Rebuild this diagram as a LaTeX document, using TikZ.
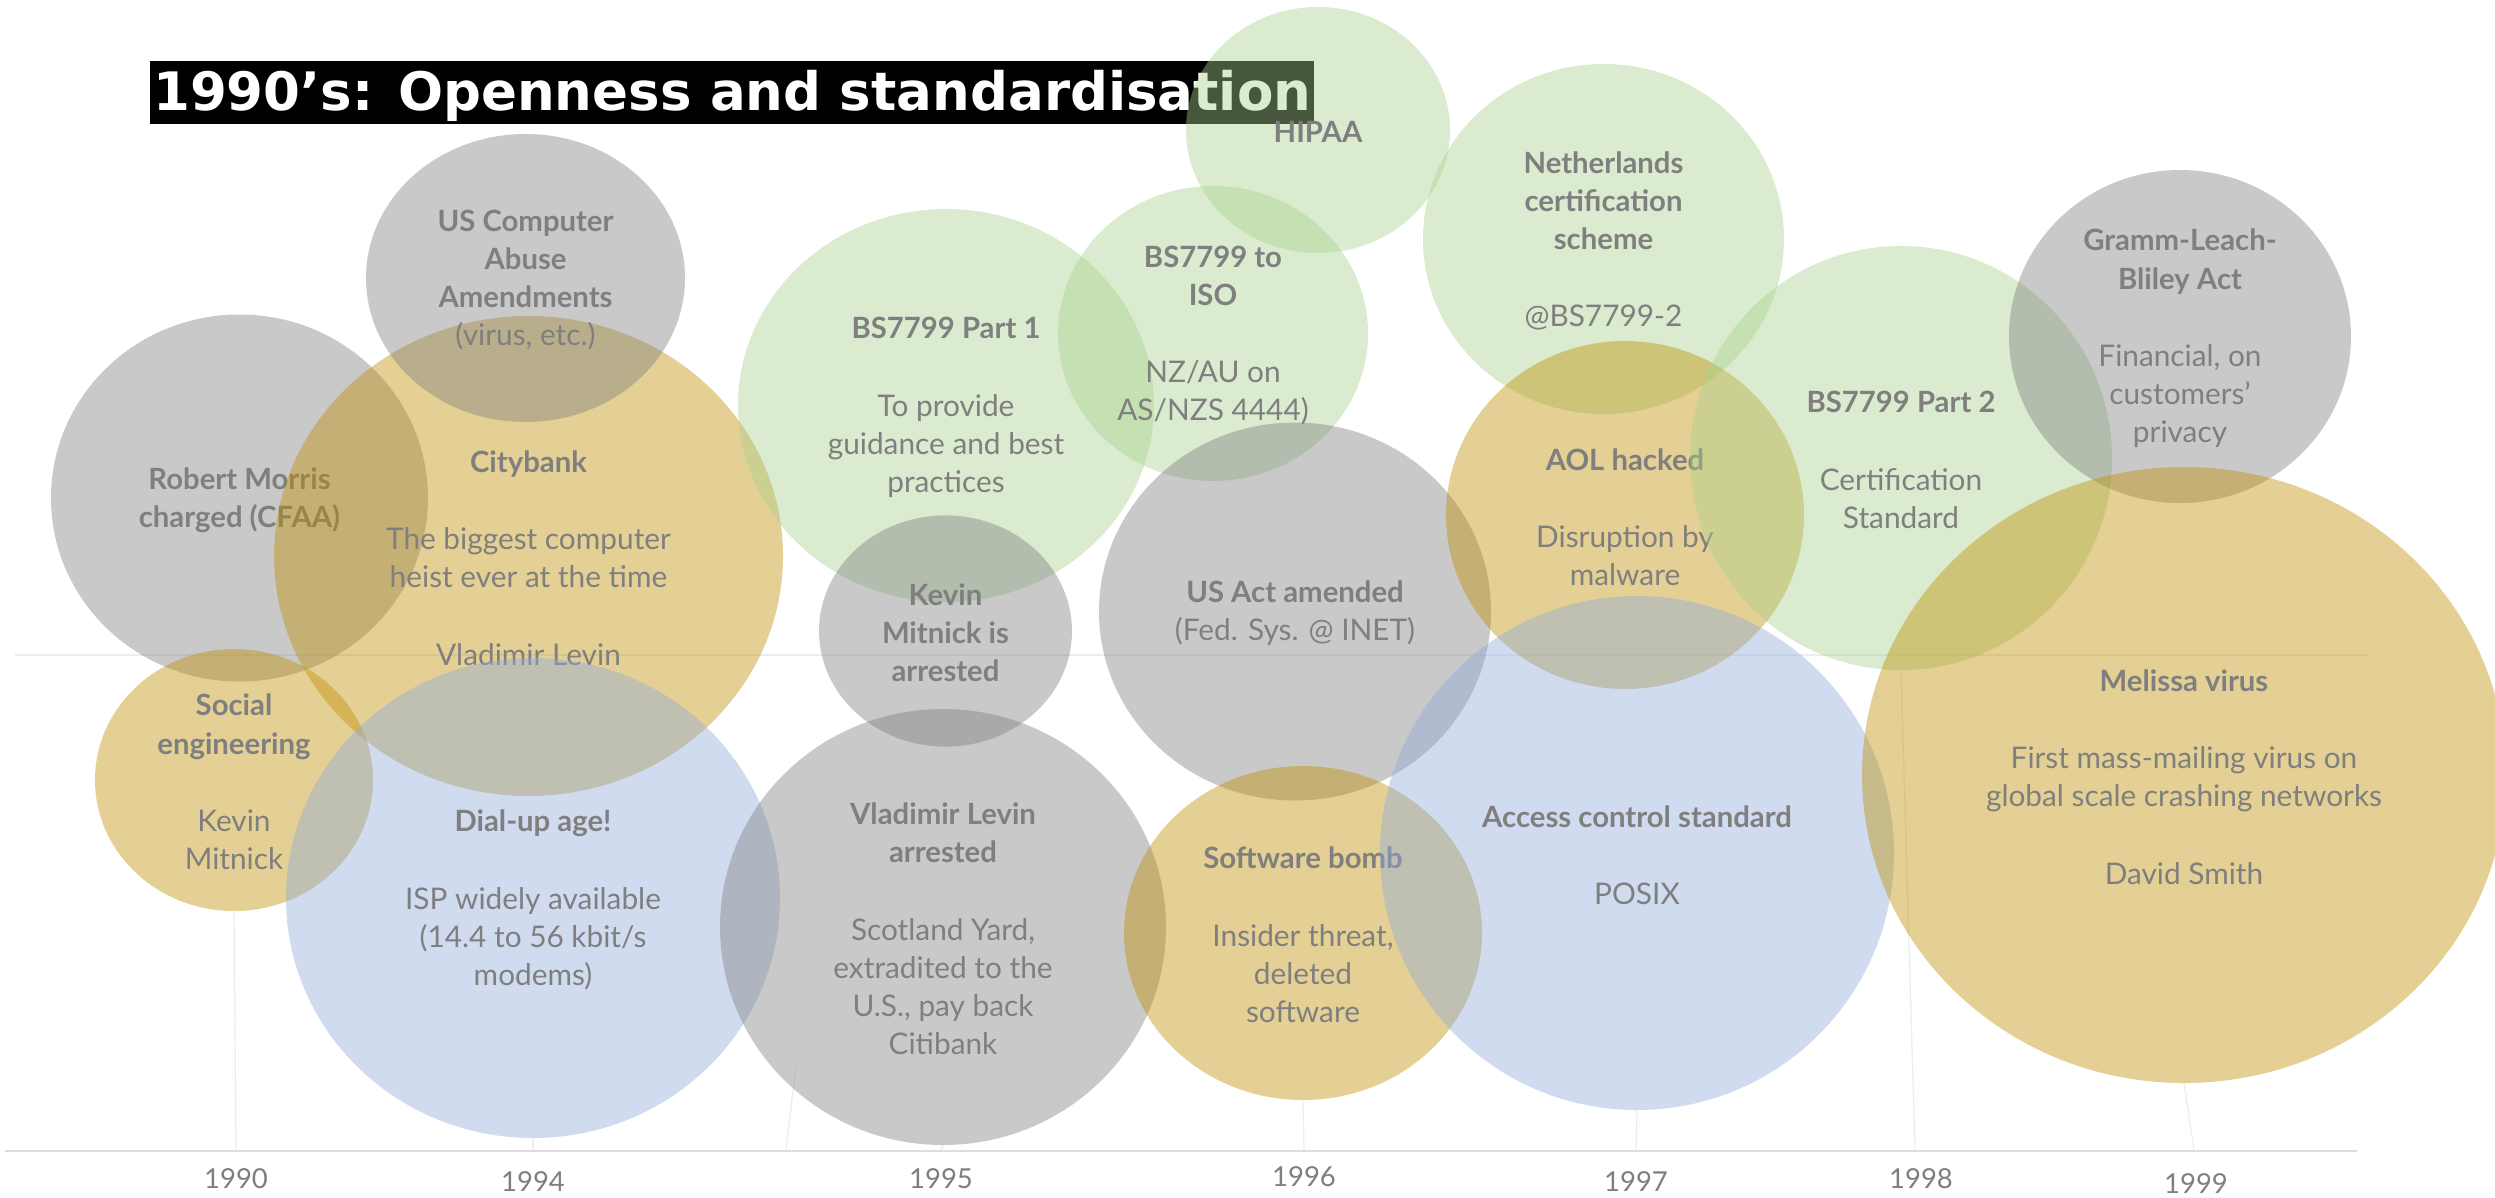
\documentclass[tikz,border=0pt]{standalone}
\usepackage{fontspec}
\setmainfont{Lato}
\newfontfamily\titlefont{DejaVu Sans}
\definecolor{cgray}{HTML}{7F7F7F}
\definecolor{cgold}{HTML}{BF8F00}
\definecolor{cgreen}{HTML}{A9D18E}
\definecolor{cblue}{HTML}{8FAADC}
\definecolor{ctext}{HTML}{7F7F7F}
\definecolor{cgrid}{HTML}{EDEDED}
\definecolor{caxis}{HTML}{DDDDDD}
\newcommand\bt[1]{{\fontsize{29.3}{38.2}\selectfont\bfseries #1}}
\newcommand\bub[7]{%
  \fill[#2, bubblefill] (#3,#4) ellipse [x radius=#5pt, y radius=#6pt];
  \node[btext] (#1) at (#3,#4) {#7};}
\begin{document}
\begin{tikzpicture}[x=1pt,y=-1pt,
  bubblefill/.style={fill opacity=0.42},
  btext/.style={text=ctext, align=center, inner sep=0pt, yshift=-2pt,
    font=\fontsize{29.8}{38.2}\selectfont},
  yearlbl/.style={text=ctext, inner sep=0pt, font=\fontsize{27.5}{33}\selectfont},
  titlebox/.style={fill=black, text=white, inner xsep=3pt, inner ysep=0pt,
    text height=49pt, text depth=14pt, font=\titlefont\bfseries\fontsize{53}{60}\selectfont},
  gridln/.style={draw=cgrid, line width=1.5pt},
  dropln/.style={draw=cgrid, line width=1.2pt},
  axisln/.style={draw=caxis, line width=2.5pt}
]
\useasboundingbox[fill=white] (0,0) rectangle (2495,1197);

% bubble bottoms and axis points
\coordinate (b-se) at (234,911);
\coordinate (b-du) at (533,1138);
\coordinate (b-vl) at (943,1145);
\coordinate (b-sb) at (1303,1100);
\coordinate (b-ac) at (1637,1110);
\coordinate (b-p2) at (1901,670);
\coordinate (b-mv) at (2184,1083);
\coordinate (a1990) at (236,1150);
\coordinate (a1994) at (533,1150);
\coordinate (a1995) at (941,1150);
\coordinate (a1996) at (1304,1150);
\coordinate (a1997) at (1636,1150);
\coordinate (a1998) at (1915,1150);
\coordinate (a1999) at (2194,1150);
\coordinate (ax0) at (5,1151);
\coordinate (ax1) at (2357,1151);
\coordinate (g0) at (15,655);
\coordinate (g1) at (2368,655);
\coordinate (xt0) at (796,1065);
\coordinate (xt1) at (786,1150);

% grid and drop lines
\draw[gridln] (g0) -- (g1);
\draw[dropln] (b-se) -- (a1990);
\draw[dropln] (b-du) -- (a1994);
\draw[dropln] (b-vl) -- (a1995);
\draw[dropln] (b-sb) -- (a1996);
\draw[dropln] (b-ac) -- (a1997);
\draw[dropln] (b-p2) -- (a1998);
\draw[dropln] (b-mv) -- (a1999);
\draw[dropln] (xt0) -- (xt1);
\draw[axisln] (ax0) -- (ax1);

% title
\node[titlebox, anchor=base west] (title) at (150,110) {1990’s: Openness and standardisation};

% bubbles
\bub{rm}{cgray}{239.5}{498}{188.5}{183.5}{\bt{Robert Morris}\\\bt{charged (CFAA)}}
\bub{se}{cgold}{234}{780}{139}{131}{\bt{Social}\\\bt{engineering}\\[39pt]Kevin\\Mitnick}
\bub{cb}{cgold}{528.5}{556}{254.5}{240}{\bt{Citybank}\\[39pt]The biggest computer\\heist ever at the time\\[39pt]Vladimir Levin}
\bub{us}{cgray}{525.5}{278}{159.5}{144}{\bt{US Computer}\\\bt{Abuse}\\\bt{Amendments}\\(virus, etc.)}
\bub{du}{cblue}{533}{898}{247}{240}{\bt{Dial-up age!}\\[39pt]ISP widely available\\(14.4 to 56 kbit/s\\modems)}
\bub{p1}{cgreen}{946}{405.5}{208}{196.5}{\bt{BS7799 Part 1}\\[39pt]To provide\\guidance and best\\practices}
\bub{km}{cgray}{945.5}{631}{126.5}{115.6}{\bt{Kevin}\\\bt{Mitnick is}\\\bt{arrested}}
\bub{vl}{cgray}{943}{927}{223}{218}{\bt{Vladimir Levin}\\\bt{arrested}\\[39pt]Scotland Yard,\\extradited to the\\U.S., pay back\\Citibank}
\bub{hp}{cgreen}{1318}{130}{132}{123}{\bt{HIPAA}}
\bub{iso}{cgreen}{1213}{333.5}{155}{147.5}{\bt{BS7799 to}\\\bt{ISO}\\[39pt]NZ/AU on\\AS/NZS 4444)}
\bub{ua}{cgray}{1295}{611.5}{196}{189}{\bt{US Act amended}\\(Fed. Sys. @ INET)}
\bub{sb}{cgold}{1303}{933}{179}{167}{\bt{Software bomb}\\[39pt]Insider threat,\\deleted\\software}
\bub{nl}{cgreen}{1603.5}{239}{180.5}{175}{\bt{Netherlands}\\\bt{certification}\\\bt{scheme}\\[39pt]@BS7799-2}
\bub{aol}{cgold}{1625}{515}{179}{174}{\bt{AOL hacked}\\[39pt]Disruption by\\malware}
\bub{ac}{cblue}{1637}{853}{257}{257}{\bt{Access control standard}\\[39pt]POSIX}
\bub{p2}{cgreen}{1901}{458}{211}{212}{\bt{BS7799 Part 2}\\[39pt]Certification\\Standard}
\bub{gl}{cgray}{2180}{336.5}{171}{166.5}{\bt{Gramm-Leach-}\\\bt{Bliley Act}\\[39pt]Financial, on\\customers’\\privacy}
\bub{mv}{cgold}{2184}{775}{322}{308}{\bt{Melissa virus}\\[39pt]First mass-mailing virus on\\global scale crashing networks\\[39pt]David Smith}

% year labels
\node[yearlbl] (y1990) at (236,1179) {1990};
\node[yearlbl] (y1994) at (533,1182) {1994};
\node[yearlbl] (y1995) at (941,1179) {1995};
\node[yearlbl] (y1996) at (1304,1177) {1996};
\node[yearlbl] (y1997) at (1636,1182) {1997};
\node[yearlbl] (y1998) at (1921,1179) {1998};
\node[yearlbl] (y1999) at (2196,1184) {1999};
\end{tikzpicture}
\end{document}
